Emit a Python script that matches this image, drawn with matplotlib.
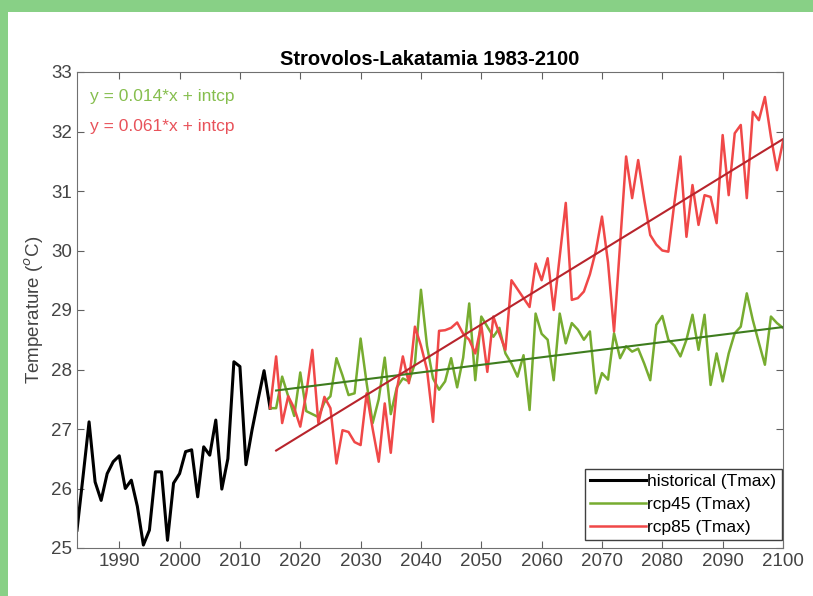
import numpy as np
import matplotlib
matplotlib.use("Agg")
import matplotlib.pyplot as plt
from matplotlib.patches import Rectangle

plt.rcParams['font.family'] = ['Liberation Sans', 'DejaVu Sans']

# dados historicos (Tmax) 1983-2015
anos_hist = list(range(1983, 2016))
tmax_hist = [25.3, 26.2, 27.12, 26.11, 25.8, 26.25, 26.45, 26.55, 26.0, 26.14,
             25.7, 25.05, 25.3, 26.28, 26.28, 25.13, 26.09, 26.25, 26.62, 26.65,
             25.86, 26.7, 26.56, 27.15, 25.99, 26.5, 28.13, 28.05, 26.4, 26.98,
             27.49, 27.98, 27.35]

# cenarios 2015-2100 (o primeiro ponto liga ao historico)
anos_rcp = list(range(2015, 2101))
tmax_rcp45 = [27.35,
              27.35, 27.88, 27.55, 27.22, 27.95, 27.3, 27.25, 27.2, 27.45, 27.55,
              28.19, 27.9, 27.57, 27.6, 28.52, 27.77, 27.1, 27.5, 28.2, 27.25,
              27.7, 27.85, 27.8, 28.1, 29.34, 28.4, 27.85, 27.66, 27.8, 28.19,
              27.7, 28.2, 29.11, 27.82, 28.89, 28.72, 28.55, 28.7, 28.27, 28.1,
              27.88, 28.24, 27.32, 28.94, 28.6, 28.5, 27.82, 28.94, 28.44, 28.78,
              28.67, 28.5, 28.64, 27.6, 27.94, 27.83, 28.61, 28.19, 28.39, 28.3,
              28.35, 28.1, 27.82, 28.75, 28.9, 28.5, 28.4, 28.22, 28.5, 28.92,
              28.33, 28.92, 27.74, 28.27, 27.8, 28.27, 28.61, 28.72, 29.28, 28.83,
              28.45, 28.08, 28.89, 28.78, 28.7]
tmax_rcp85 = [27.35,
              28.22, 27.1, 27.55, 27.35, 27.04, 27.6, 28.33, 27.1, 27.54, 27.35,
              26.42, 26.98, 26.95, 26.78, 26.73, 27.6, 27.0, 26.45, 27.43, 26.6,
              27.66, 28.22, 27.77, 28.72, 28.4, 28.0, 27.12, 28.65, 28.66, 28.7,
              28.79, 28.6, 28.5, 28.27, 28.75, 27.96, 28.89, 28.6, 28.33, 29.5,
              29.35, 29.2, 29.05, 29.78, 29.5, 29.87, 29.0, 29.9, 30.8, 29.17,
              29.2, 29.31, 29.6, 30.0, 30.57, 29.8, 28.64, 30.1, 31.58, 30.88,
              31.52, 30.86, 30.26, 30.1, 30.0, 29.98, 30.8, 31.58, 30.23, 31.1,
              30.43, 30.93, 30.9, 30.46, 31.94, 30.93, 31.97, 32.11, 30.88, 32.33,
              32.19, 32.58, 31.91, 31.35, 31.83]

rotulos = ['historical (Tmax)', 'rcp45 (Tmax)', 'rcp85 (Tmax)']
textos_tendencia = ['y = 0.014*x + intcp', 'y = 0.061*x + intcp']

cor_verde = '#77AC30'
cor_vermelho = '#F04848'

fig = plt.figure(figsize=(8.13, 5.96), dpi=100, facecolor='#88D086')
# area branca dentro da moldura verde
fig.patches.append(Rectangle((8 / 813, 0), 1, (596 - 12) / 596,
                             transform=fig.transFigure, facecolor='white',
                             edgecolor='none', zorder=-5))

ax = fig.add_axes([77 / 813, 1 - 548 / 596, (783 - 77) / 813, (548 - 72) / 596])
ax.set_zorder(2)

ax.plot(anos_hist, tmax_hist, color='black', lw=2.2, label=rotulos[0])
ax.plot(anos_rcp, tmax_rcp45, color=cor_verde, lw=1.8, label=rotulos[1])
ax.plot(anos_rcp, tmax_rcp85, color=cor_vermelho, lw=1.8, label=rotulos[2])

# retas de regressao (a partir de 2016)
x = np.array(anos_rcp[1:])
for serie, cor in [(tmax_rcp45, '#3E7D1E'), (tmax_rcp85, '#B8242C')]:
    coef = np.polyfit(x, np.array(serie[1:]), 1)
    ax.plot(x, np.polyval(coef, x), color=cor, lw=1.5)

ax.text(1985.2, 32.58, textos_tendencia[0], color='#86BE4E', fontsize=12.5, va='center')
ax.text(1985.2, 32.08, textos_tendencia[1], color='#E8525A', fontsize=12.5, va='center')

ax.set_xlim(1983, 2100)
ax.set_ylim(25, 33)
ax.set_xticks(range(1990, 2101, 10))
ax.set_yticks(range(25, 34))
ax.tick_params(direction='in', top=True, right=True, labelsize=13.5,
               colors='#606060', labelcolor='#444444', length=5)
for s in ax.spines.values():
    s.set_color('#707070')

ax.set_ylabel('Temperature ($^{o}$C)', fontsize=13.5, color='#444444', labelpad=4)
ax.set_title('Strovolos-Lakatamia 1983-2100', fontsize=14.5, fontweight='bold', pad=5)

leg = ax.legend(loc='lower right', bbox_to_anchor=(0.998, 8 / 476), fontsize=12.5,
                fancybox=False, framealpha=1, edgecolor='#404040',
                handlelength=3.2, handletextpad=0.1, borderaxespad=0,
                labelspacing=0.45, borderpad=0.3)
leg.get_frame().set_linewidth(1.0)

plt.savefig('out.png', dpi=100, facecolor=fig.get_facecolor())
